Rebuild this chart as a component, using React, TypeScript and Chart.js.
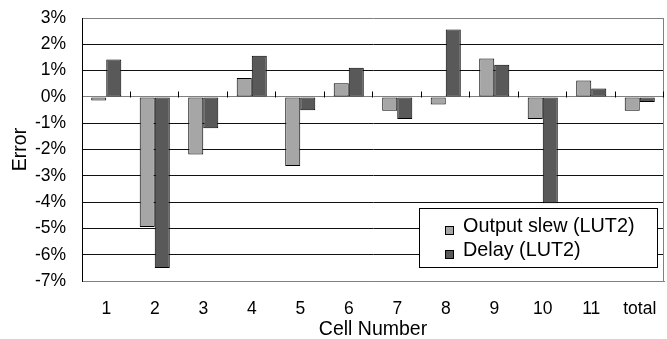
import React, { useEffect, useRef } from "react";
import { Chart, registerables } from "chart.js";

Chart.register(...registerables);

const categories = ["1", "2", "3", "4", "5", "6", "7", "8", "9", "10", "11", "total"];
const slewValues = [-0.14, -4.95, -2.19, 0.72, -2.63, 0.52, -0.53, -0.29, 1.46, -0.84, 0.62, -0.53];
const delayValues = [1.42, -6.51, -1.19, 1.56, -0.51, 1.11, -0.84, 2.56, 1.22, -4.04, 0.32, -0.19];
const seriesLabels = ["Output slew (LUT2)", "Delay (LUT2)"];
const yMin = -7;
const yMax = 3;

const FONT = "'Liberation Sans', Arial, Helvetica, sans-serif";

const decorPlugin = {
  id: "decor",
  afterDraw(chart: any) {
    const { ctx, chartArea } = chart;
    const x = chart.scales.x;
    const y = chart.scales.y;
    ctx.save();
    // right border
    ctx.strokeStyle = "#808080";
    ctx.lineWidth = 1;
    ctx.beginPath();
    const rx = Math.round(chartArea.right) - 0.5;
    ctx.moveTo(rx, chartArea.top);
    ctx.lineTo(rx, chartArea.bottom);
    ctx.stroke();
    // category tick marks on zero line
    const y0 = Math.round(y.getPixelForValue(0)) + 0.5;
    ctx.strokeStyle = "#000";
    ctx.beginPath();
    for (let i = 0; i < categories.length; i++) {
      let px;
      if (i < categories.length - 1) px = (x.getPixelForValue(i) + x.getPixelForValue(i + 1)) / 2;
      else px = chartArea.right;
      px = Math.round(px) - 0.5;
      ctx.moveTo(px, y0);
      ctx.lineTo(px, y0 - 6);
    }
    ctx.stroke();

    // legend
    const bx = 419.5, by = 208.5, bw = 238, bh = 59;
    ctx.fillStyle = "#fff";
    ctx.fillRect(bx, by, bw, bh);
    ctx.strokeStyle = "#000";
    ctx.strokeRect(bx, by, bw, bh);
    ctx.font = `19.8px ${FONT}`;
    ctx.textBaseline = "alphabetic";
    ctx.textAlign = "left";
    chart.data.datasets.forEach((ds: any, i: number) => {
      const base = 231.5 + i * 24;
      ctx.fillStyle = ds.backgroundColor;
      ctx.fillRect(445.5, base - 5, 8, 8);
      ctx.strokeStyle = "#000";
      ctx.strokeRect(445.5, base - 5, 8, 8);
      ctx.fillStyle = "#000";
      ctx.fillText(ds.label, 463, base);
    });
    ctx.restore();
  },
};

export default function App() {
  const ref = useRef<HTMLCanvasElement>(null);
  useEffect(() => {
    if (!ref.current) return;
    Chart.defaults.font.family = FONT;
    Chart.defaults.color = "#000";
    const chart = new Chart(ref.current, {
      type: "bar",
      data: {
        labels: categories,
        datasets: [
          {
            label: seriesLabels[0],
            data: slewValues,
            backgroundColor: "#a6a6a6",
            borderColor: "#000",
            borderWidth: 1,
            borderSkipped: false,
          },
          {
            label: seriesLabels[1],
            data: delayValues,
            backgroundColor: "#595959",
            borderColor: "#000",
            borderWidth: 1,
            borderSkipped: false,
          },
        ],
      },
      options: {
        responsive: false,
        animation: false,
        devicePixelRatio: 1,
        categoryPercentage: 0.62,
        barPercentage: 1,
        layout: { padding: { left: 0, right: 3, top: 18, bottom: 0 } },
        plugins: { legend: { display: false }, tooltip: { enabled: false } },
        scales: {
          x: {
            grid: { display: false },
            border: { display: true, color: "#808080", width: 1 },
            ticks: { font: { size: 17.5, family: FONT }, color: "#000", padding: 10, maxRotation: 0 },
            title: {
              display: true,
              text: "Cell Number",
              font: { size: 19.5, family: FONT, lineHeight: 1 },
              color: "#000",
              padding: { top: 0, bottom: 0 },
            },
            afterFit: (s: any) => {
              s.height = 58;
            },
          },
          y: {
            min: yMin,
            max: yMax,
            ticks: {
              stepSize: 1,
              font: { size: 17.5, family: FONT },
              color: "#000",
              padding: 0,
              callback: (v: any) => `${v}%`,
            },
            grid: {
              drawTicks: true,
              tickLength: 16,
              tickColor: "rgba(0,0,0,0)",
              color: (c: any) => (c.tick && (c.tick.value === 0 || c.tick.value === yMax || c.tick.value === yMin) ? "#808080" : "#111"),
              lineWidth: 1,
            },
            border: { display: true, color: "#000", width: 1 },
            title: {
              display: true,
              text: "Error",
              font: { size: 19.5, family: FONT, lineHeight: 1 },
              color: "#000",
              padding: { top: 11, bottom: 0 },
            },
            afterFit: (s: any) => {
              s.width = 82;
            },
          },
        },
      },
      plugins: [decorPlugin],
    });
    return () => chart.destroy();
  }, []);
  return (
    <div style={{ position: "absolute", left: 0, top: 0, width: 667, height: 339 }}>
      <canvas ref={ref} width={667} height={339} style={{ width: 667, height: 339 }} />
    </div>
  );
}
